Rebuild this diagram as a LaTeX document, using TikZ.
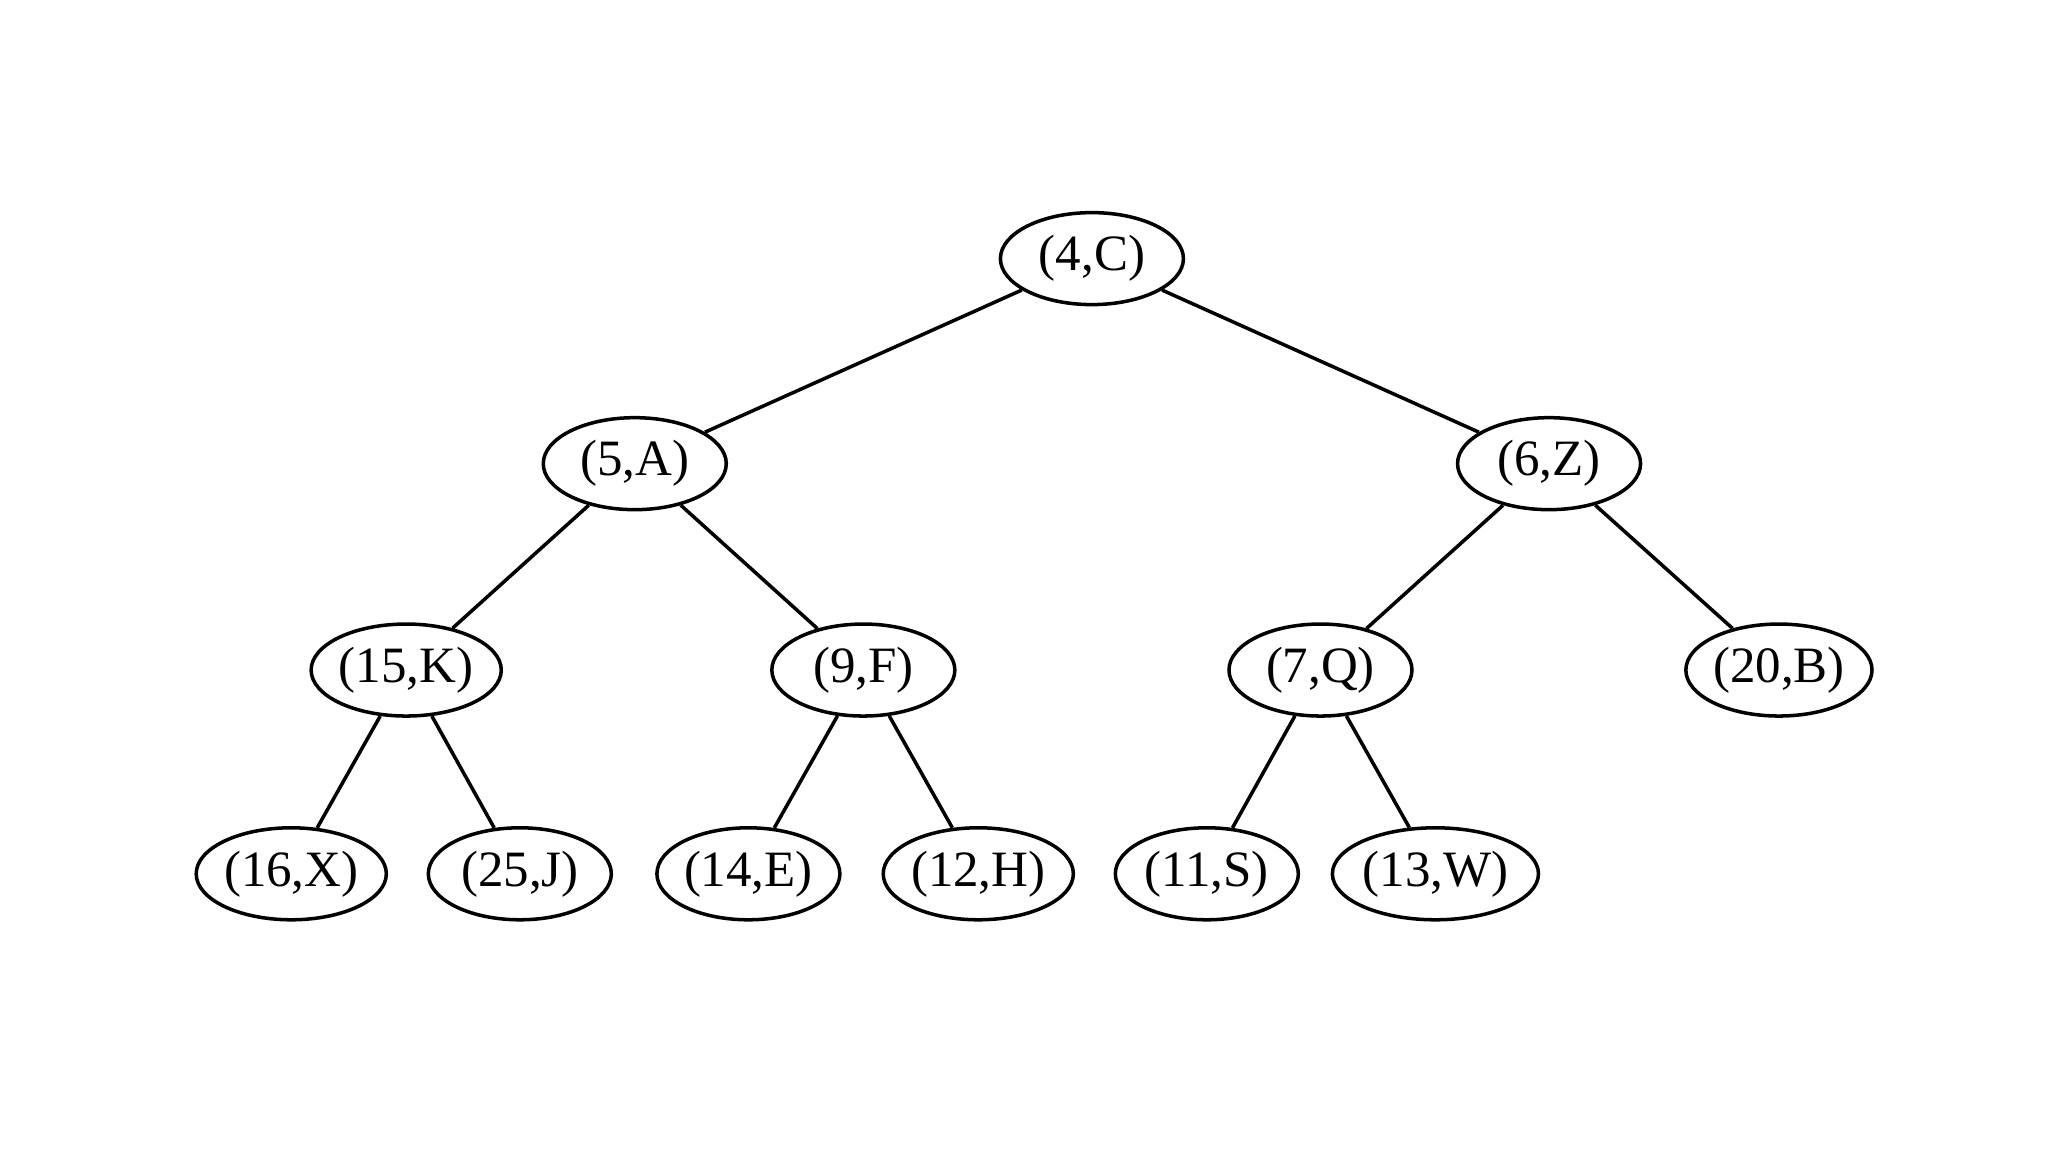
\documentclass[tikz,border=0pt]{standalone}
\usepackage{fontspec}
\setmainfont{Liberation Serif}
\usetikzlibrary{shapes.geometric}
\begin{document}
\begin{tikzpicture}[x=0.01306cm,y=-0.01306cm,
  tn/.style={draw,ellipse,line width=1pt,minimum width=1.83cm,minimum height=0.92cm,inner sep=0pt,font=\fontsize{14.5}{16}\selectfont},
  ed/.style={line width=1pt}]
\useasboundingbox (0,0) rectangle (1568,882);
\node[tn] (r) at (836,198) {(4,C)};
\node[tn] (a) at (486,355) {(5,A)};
\node[tn] (z) at (1186,355) {(6,Z)};
\node[tn] (k) at (311,513) {(15,K)};
\node[tn] (f) at (661,513) {(9,F)};
\node[tn] (q) at (1011,513) {(7,Q)};
\node[tn] (b) at (1362,513) {(20,B)};
\node[tn] (x) at (223,669) {(16,X)};
\node[tn] (j) at (398,669) {(25,J)};
\node[tn] (e) at (573,669) {(14,E)};
\node[tn] (h) at (749,669) {(12,H)};
\node[tn] (s) at (924,669) {(11,S)};
\node[tn] (w) at (1099,669) {(13,W)};
\foreach \u/\v in {r/a,r/z,a/k,a/f,z/q,z/b,k/x,k/j,f/e,f/h,q/s,q/w}
  \draw[ed] (\u) -- (\v);
\end{tikzpicture}
\end{document}
